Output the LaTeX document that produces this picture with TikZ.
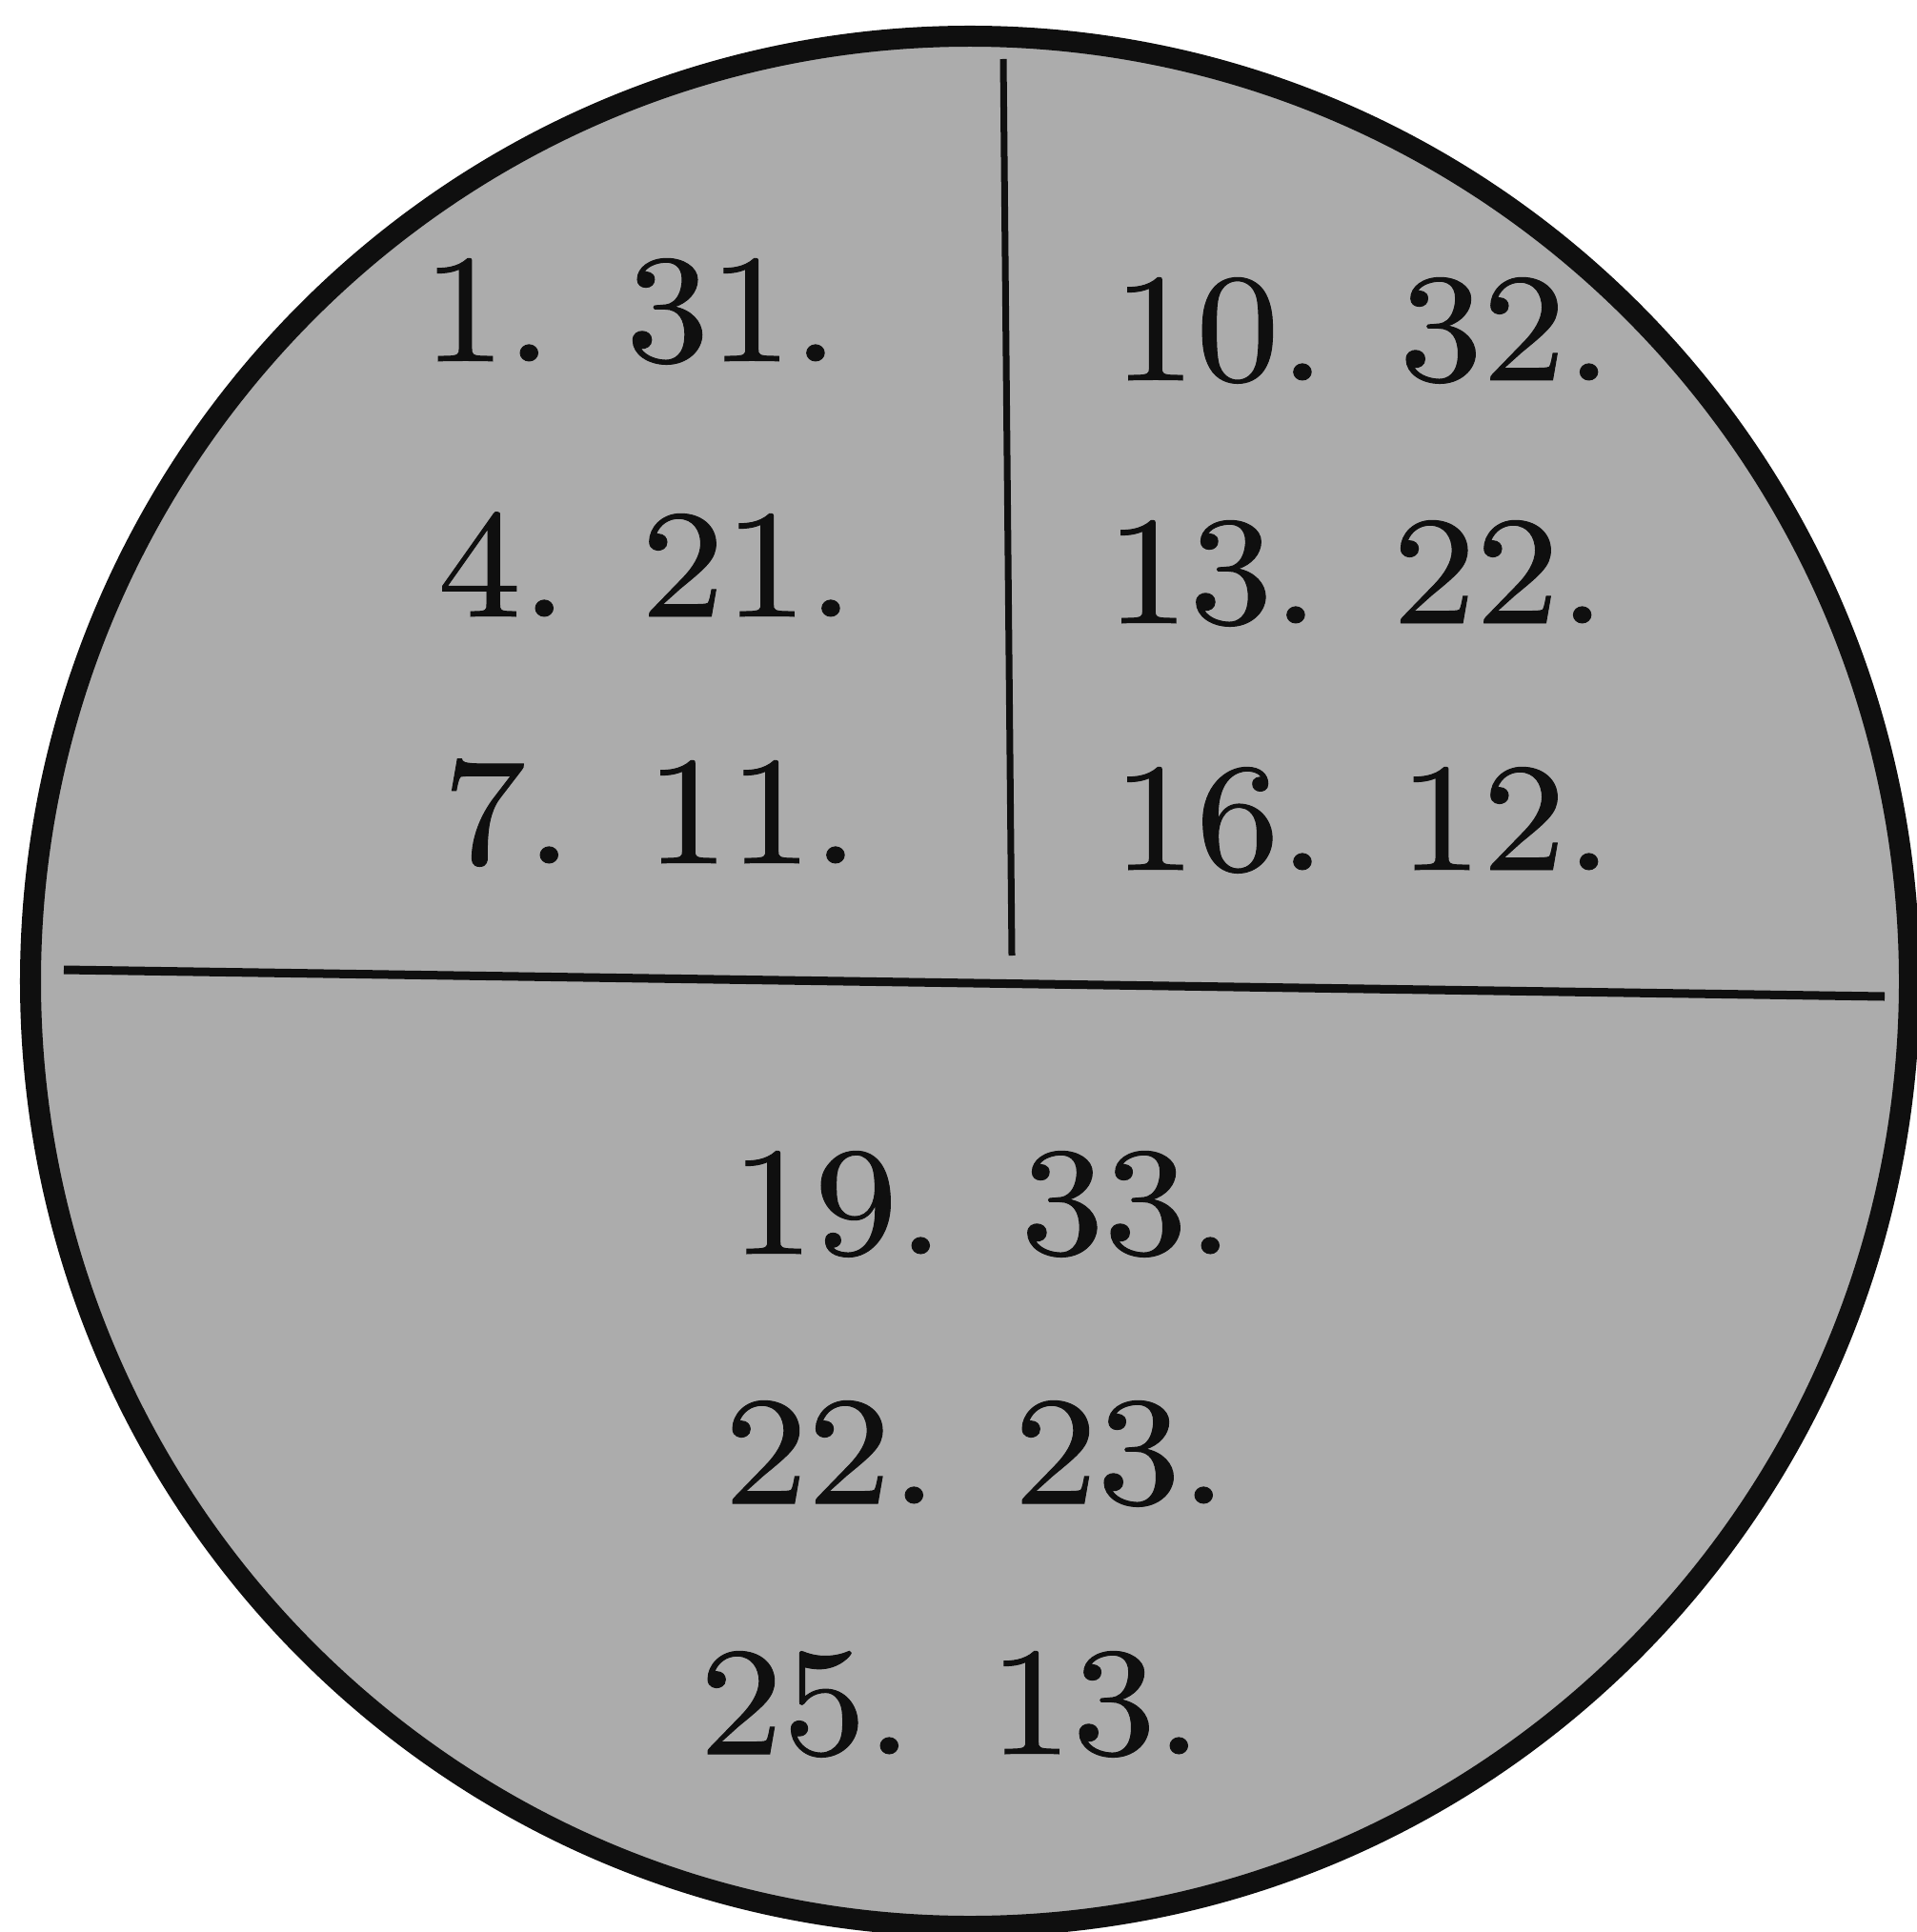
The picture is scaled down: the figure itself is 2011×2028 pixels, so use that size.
\documentclass[tikz,border=0pt]{standalone}
\usepackage{fontspec}
\newfontfamily\numfont{lmroman10-regular}[Extension=.otf, FakeBold=0.6, FakeStretch=1.08]
\definecolor{disc}{RGB}{172,172,172}
\definecolor{ink}{RGB}{15,15,15}
\tikzset{
  numtext/.style={anchor=base, inner sep=0pt, text=ink,
    font=\numfont\fontsize{46}{56}\selectfont},
  widetext/.style={numtext},
  rim/.style={draw=ink, line width=0.22cm, fill=disc},
  divider/.style={draw=ink, line width=0.09cm},
}
\begin{document}
\begin{tikzpicture}[x=0.01cm, y=-0.01cm]
\useasboundingbox (0,0) rectangle (2011,2028);
% disc
\path[rim] (1018,1030) ellipse [x radius=986, y radius=992];
% dividers
\coordinate (vtop) at (1053,62);
\coordinate (vbot) at (1062,1003);
\coordinate (hleft) at (67,1018);
\coordinate (hright) at (1978,1046);
\draw[divider, line width=0.07cm] (vtop) -- (vbot);
\draw[divider] (hleft) -- (hright);
% left column
\node[numtext] (l1) at (662,379) {1. 31.};
\node[numtext] (l2) at (678,647) {4. 21.};
\node[numtext] (l3) at (683,906) {7. 11.};
% right column
\node[numtext] (r1) at (1430,399) {10. 32.};
\node[numtext] (r2) at (1423,654) {13. 22.};
\node[numtext] (r3) at (1430,913) {16. 12.};
% bottom
\node[widetext] (b1) at (1031,1316) {19.\enspace 33.};
\node[widetext] (b2) at (1024,1578) {22.\enspace 23.};
\node[widetext] (b3) at (998,1841) {25.\enspace 13.};
\end{tikzpicture}
\end{document}
